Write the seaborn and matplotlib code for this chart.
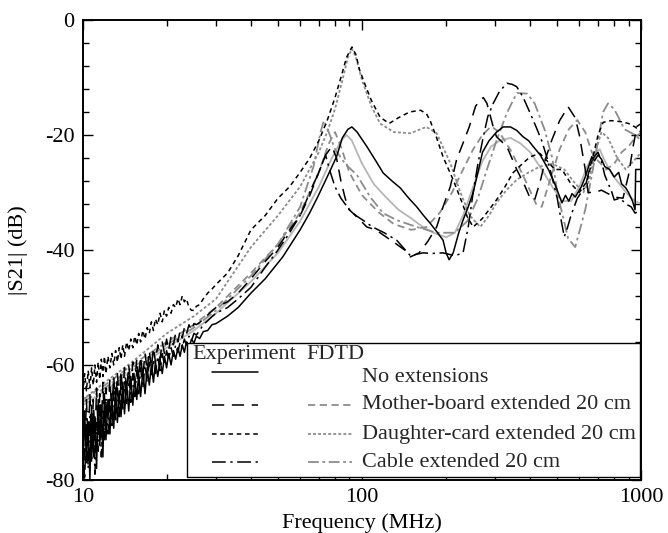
import numpy as np
import pandas as pd
import matplotlib
matplotlib.use("Agg")
import matplotlib.pyplot as plt
import seaborn as sns
from matplotlib.patches import Rectangle
from matplotlib.ticker import FixedLocator, NullFormatter, FixedFormatter

# ---------------- data ----------------
# shared low-frequency grid (noisy part of the measurements)
freq_lo = [10.0, 10.15, 10.3, 10.45, 10.6, 10.75, 10.9, 11.05, 11.2, 11.35, 11.5, 11.65, 11.8, 11.95,
           12.1, 12.3, 12.5, 12.7, 12.9, 13.1, 13.3, 13.5, 13.7, 13.9,
           14.1, 14.35, 14.6, 14.85, 15.1, 15.35, 15.6, 15.85, 16.1,
           16.4, 16.7, 17.0, 17.3, 17.6, 17.9, 18.2,
           18.55, 18.9, 19.25, 19.6, 19.95, 20.3,
           20.7, 21.1, 21.5, 21.9, 22.3, 22.7, 23.1, 23.5,
           24.0, 24.5, 25.0, 25.5, 26.2, 27.0, 28.0, 29.0, 30.0]

exp_noext_lo = [-79, -68, -77, -70, -80, -67, -76, -69, -78, -66, -74, -67, -76, -65,
                -73, -66, -72, -65, -71, -64, -70, -64.5, -69, -63,
                -68.5, -63, -68, -62, -67, -62, -66, -61.5, -65.5,
                -61, -65, -60.5, -63.5, -60, -63, -59.5,
                -62, -59, -61.5, -58.5, -60.5, -58,
                -60, -57.5, -59, -57, -58.5, -56.5, -57.8, -56,
                -57, -55.5, -56.2, -55, -55.4, -54.2, -54, -53, -52.8]
exp_mother_lo = [-72, -76, -66, -74, -65, -75, -66, -73, -64, -72, -65, -71, -63, -70,
                 -64, -69, -62.5, -68, -62, -67, -61.5, -66, -61, -65.5,
                 -60.5, -64.5, -60, -64, -59.5, -63, -59, -62.5, -58.5,
                 -62, -58, -61, -57.5, -60.5, -57, -59.5,
                 -56.5, -59, -56, -58, -55.5, -57.5,
                 -55, -56.5, -54.5, -56, -54, -55.3, -53.5, -54.6,
                 -53, -54, -52.8, -53, -52.6, -52, -51.3, -50.6, -50]
exp_cable_lo = [-73, -80, -70, -78, -69, -77, -68, -79, -70, -75, -67, -76, -68, -73,
                -66, -72, -65.5, -71, -64.5, -70, -64, -69, -63, -68,
                -62.5, -67, -62, -66.5, -61.5, -65.5, -61, -65, -60.5,
                -64, -60, -63, -59.5, -62, -59, -61.5,
                -58.5, -61, -58, -60, -57.5, -59,
                -57, -58.5, -56.5, -57.8, -56, -57, -55.5, -56.5,
                -55, -55.8, -54.5, -54.8, -54, -53, -52.3, -51.6, -51]
exp_daughter_lo = [-65, -61.5, -64.5, -61, -64, -60.5, -63.5, -60, -63, -59.5, -62.5, -59, -62, -58.5,
                   -61.5, -58.5, -60.5, -58, -60, -57.5, -59.5, -57, -59, -56.5,
                   -58.5, -56, -57.5, -55.5, -57, -55, -56.5, -54.5, -56,
                   -54, -55.5, -53.5, -54.5, -52.5, -54, -52,
                   -53, -51, -52.5, -50.5, -51.5, -50,
                   -51, -49.5, -50, -48.5, -49.5, -48, -49, -48.5,
                   -50, -50.5, -50.5, -49.8, -49.5, -48.5, -47.5, -46.8, -46]

# higher-frequency parts of the measurements
f_noext_hi = [33, 36, 40, 45, 52, 60, 65, 69, 75, 81, 85, 89, 92, 96, 104, 112, 119, 128, 137, 147,
              157, 166, 175, 185, 195, 200, 205, 212, 222, 230, 240, 250, 260, 270, 285, 303, 320,
              340, 358, 377, 395, 410, 435, 465, 490, 520, 535, 550, 565, 580, 610, 630, 665, 680,
              700, 720, 740, 770, 800, 830, 850, 880, 900, 930, 950, 955, 1000]
db_noext_hi = [-51.5, -50, -47.5, -45, -41.2, -36.5, -33.5, -31, -27.3, -23.8, -20.5, -19, -18.6,
               -19.5, -22, -24.5, -26.6, -28, -29.2, -31, -32.5, -34, -35.3, -36.8, -38.3, -40.5,
               -41.7, -40.5, -37, -34.8, -32.5, -30, -26.5, -23, -21, -19.5, -18.6, -18.6, -19.2,
               -20.3, -21, -22, -23.5, -26, -28.5, -31.8, -30.5, -31.5, -30.2, -30.8, -29, -27.3,
               -23.8, -24.5, -23.5, -24.2, -25.5, -26, -27.3, -26.5, -28.5, -29.2, -30, -31.5,
               -33, -26, -26]

f_mother_hi = [33, 36, 40, 45, 50, 55, 60, 65, 70, 74, 78, 81, 84, 87, 90, 97, 104, 112, 120, 133,
               142, 149, 160, 172, 185, 195, 207, 218, 230, 242, 255, 265, 272, 280, 295, 303, 330,
               358, 380, 400, 415, 435, 455, 478, 510, 547, 580, 600, 630, 645, 680, 720, 760, 800,
               860, 900, 935, 965, 1000]
db_mother_hi = [-49, -47.5, -45, -42, -39.5, -36.5, -34, -30.5, -26.5, -23.5, -22, -24, -28, -31,
                -33, -34.5, -36, -36.5, -37.5, -39, -40, -41.2, -40.5, -38.5, -36, -32.5, -29,
                -24.3, -21.4, -18.6, -15, -13.9, -13.5, -14.5, -18.6, -20.3, -22, -26, -28.5, -31,
                -31.3, -28, -24, -20.9, -17.5, -15.1, -17, -20, -26, -30, -30, -29.6, -30.2, -30.8,
                -31, -27, -22, -18.5, -18]

f_cable_hi = [33, 36, 40, 45, 50, 55, 60, 65, 70, 74, 77, 80, 84, 90, 95, 102, 109, 120, 133, 149,
              165, 179, 195, 215, 230, 240, 250, 260, 270, 282, 295, 310, 330, 345, 358, 377, 400,
              420, 440, 460, 480, 500, 515, 530, 545, 560, 590, 630, 665, 700, 720, 740, 785, 800,
              840, 880, 920, 950, 1000]
db_cable_hi = [-50, -48.5, -46.5, -43, -40, -37, -34, -30, -26.5, -23.5, -26.5, -29, -31, -33, -34,
               -35, -36, -37, -38.3, -41, -40.5, -40.6, -40.5, -41, -40.5, -36, -30, -25, -21,
               -16.8, -14.5, -12.5, -11, -11.2, -11.6, -13.4, -16.2, -18.6, -21, -24, -27.5, -31,
               -34.5, -37.7, -36, -34, -31, -29, -24.3, -23, -24.5, -27, -30, -31.3, -31, -32,
               -32.5, -33.6, -33]

f_daughter_hi = [33, 36, 40, 45, 50, 55, 60, 65, 70, 75, 80, 84, 88, 92, 95, 98, 103, 108, 116, 125,
                 135, 148, 162, 170, 175, 185, 195, 212, 225, 238, 250, 270, 303, 325, 347, 375,
                 400, 433, 460, 490, 520, 560, 600, 640, 670, 700, 730, 780, 850, 900, 950, 1000]
db_daughter_hi = [-44, -41, -36.5, -34, -31, -29, -26.5, -24, -21, -17.5, -13.5, -10, -6.5, -4.7, -6,
                  -8.7, -11.5, -14, -16.9, -18, -17, -16, -15.7, -16.3, -17.4, -20.5, -23.8, -27.8,
                  -31, -34.2, -36, -34.5, -31.3, -29, -26.6, -25, -23.8, -23.2, -24.5, -26, -26,
                  -28.5, -30, -28, -24, -20, -17.8, -17.5, -17.7, -18, -18.6, -19.5]

# FDTD simulations (smooth)
f_fdtd_noext = [10, 12, 15, 20, 25, 30, 40, 50, 60, 70, 78, 84, 88, 92, 100, 110, 120, 135, 150, 165,
                180, 200, 215, 230, 250, 270, 290, 310, 340, 370, 400, 440, 480, 520, 560, 600, 640,
                680, 710, 740, 790, 850, 900, 950, 1000]
db_fdtd_noext = [-67, -64.5, -61, -57, -54, -51, -45.5, -40.5, -35, -29, -24, -21, -20, -21, -25,
                 -28.5, -30.5, -33, -34.5, -36, -37, -37.8, -37, -34, -29, -24.5, -22, -21, -20.5,
                 -21.5, -23, -26, -29, -31.5, -31.5, -29, -25.5, -23, -22.5, -24.5, -27, -29, -30.5,
                 -31.5, -32]

f_fdtd_mother = [10, 12, 15, 20, 25, 30, 40, 50, 60, 70, 76, 80, 84, 90, 100, 115, 130, 150, 170, 190,
                 210, 230, 250, 270, 290, 310, 340, 377, 420, 440, 470, 510, 550, 590, 630, 665, 700,
                 750, 800, 850, 900, 950, 1000]
db_fdtd_mother = [-66, -63.5, -60, -56, -53, -50, -44, -39, -33.5, -26.5, -21.5, -19.5, -22, -26.5,
                  -30.5, -33.5, -35.5, -36.5, -36, -33.5, -30, -26, -22.5, -20, -18.5, -19.5, -22.6,
                  -27, -32, -32.5, -28, -22.5, -19, -17.4, -19.5, -23, -24.5, -26, -25, -23, -22,
                  -20.5, -19.5]

f_fdtd_daughter = [10, 12, 15, 20, 25, 30, 40, 50, 60, 70, 75, 80, 85, 89, 92, 95, 100, 108, 116, 130,
                   149, 170, 185, 207, 225, 243, 265, 285, 303, 330, 358, 395, 433, 480, 530, 570, 620,
                   650, 685, 720, 760, 820, 880, 940, 1000]
db_fdtd_daughter = [-66, -63, -59.5, -54.5, -51.5, -48.5, -39.5, -34, -29, -23, -19.5, -15.5, -10.5,
                    -6.5, -5, -6.5, -10.5, -15, -18, -19.5, -19.7, -18.6, -19.7, -24.9, -30, -34, -36,
                    -34, -31.8, -29.5, -27.8, -26.5, -25.5, -25, -26, -28, -30, -28, -23, -19.5, -20.5,
                    -24, -26, -24.5, -23]

f_fdtd_cable = [10, 12, 15, 20, 25, 30, 40, 50, 60, 67, 71, 73, 76, 80, 87, 96, 107, 119, 133, 157, 185,
                215, 238, 260, 280, 303, 330, 358, 390, 415, 450, 480, 500, 547, 580, 630, 665, 700,
                730, 760, 800, 830, 870, 950, 1000]
db_fdtd_cable = [-66.5, -64, -60.5, -56.5, -53.5, -50.5, -44.5, -39, -32.5, -25.5, -19.5, -17.5, -19.5,
                 -22.5, -25, -27, -30.8, -33.6, -34.8, -36, -37, -37, -35, -31, -26, -21, -16.2, -12.7,
                 -12.8, -14.5, -19, -24, -30, -38, -39.5, -33, -27, -21, -16, -14.5, -15.5, -17, -19,
                 -20, -21]

labels = ["No extensions", "Mother-board extended 20 cm",
          "Daughter-card extended 20 cm", "Cable extended 20 cm"]

# ---------------- styling ----------------
sns.set_theme(style="white")
plt.rcParams["font.family"] = ["Liberation Serif", "DejaVu Serif"]
plt.rcParams["axes.unicode_minus"] = False

GRAY = "#8c8c8c"
exp_styles = {
    "No extensions": "-",
    "Mother-board extended 20 cm": (0, (8, 5)),
    "Daughter-card extended 20 cm": (0, (3, 2.4)),
    "Cable extended 20 cm": (0, (9, 3, 1.5, 3)),
}
fdtd_styles = {
    "No extensions": "-",
    "Mother-board extended 20 cm": (0, (4, 2.5)),
    "Daughter-card extended 20 cm": (0, (1.6, 1.2)),
    "Cable extended 20 cm": (0, (6, 2, 1.5, 2)),
}

fig = plt.figure(figsize=(6.68, 5.33), dpi=100)
ax = fig.add_axes([0.124, 0.0995, 0.836, 0.8630])

exp_data = {
    "No extensions": (freq_lo + f_noext_hi, exp_noext_lo + db_noext_hi),
    "Mother-board extended 20 cm": (freq_lo + f_mother_hi, exp_mother_lo + db_mother_hi),
    "Daughter-card extended 20 cm": (freq_lo + f_daughter_hi, exp_daughter_lo + db_daughter_hi),
    "Cable extended 20 cm": (freq_lo + f_cable_hi, exp_cable_lo + db_cable_hi),
}
fdtd_data = {
    "No extensions": (f_fdtd_noext, db_fdtd_noext),
    "Mother-board extended 20 cm": (f_fdtd_mother, db_fdtd_mother),
    "Daughter-card extended 20 cm": (f_fdtd_daughter, db_fdtd_daughter),
    "Cable extended 20 cm": (f_fdtd_cable, db_fdtd_cable),
}

for lab in labels:
    f, d = fdtd_data[lab]
    df = pd.DataFrame({"f": f, "db": d})
    col = "#b5b5b5" if lab == "No extensions" else GRAY
    sns.lineplot(data=df, x="f", y="db", ax=ax, color=col, linewidth=1.3,
                 linestyle=fdtd_styles[lab], sort=False, estimator=None, legend=False)

for lab in labels:
    f, d = exp_data[lab]
    df = pd.DataFrame({"f": f, "db": d})
    sns.lineplot(data=df, x="f", y="db", ax=ax, color="black", linewidth=1.1,
                 linestyle=exp_styles[lab], sort=False, estimator=None, legend=False)

ax.set_xscale("log")
ax.set_xlim(10, 1000)
ax.set_ylim(-80, 0)

ax.xaxis.set_major_locator(FixedLocator([10, 100, 1000]))
ax.xaxis.set_major_formatter(FixedFormatter(["10", "100", "1000"]))
minor_x = [m * 10 ** e for e in (1, 2) for m in range(2, 10)]
ax.xaxis.set_minor_locator(FixedLocator(minor_x))
ax.xaxis.set_minor_formatter(NullFormatter())
ax.yaxis.set_major_locator(FixedLocator([0, -20, -40, -60, -80]))
ax.yaxis.set_minor_locator(FixedLocator([v for v in range(-80, 1, 4) if v % 20 != 0]))

ax.tick_params(which="both", direction="in", top=True, right=True, bottom=True, left=True,
               labelsize=16, colors="black", width=1.0)
ax.tick_params(which="major", length=7, pad=6)
ax.tick_params(which="minor", length=4)
for s in ax.spines.values():
    s.set_color("black")
    s.set_linewidth(1.4)

ax.set_xlabel("Frequency (MHz)", fontsize=16, labelpad=4, color="black")
ax.set_ylabel("|S21| (dB)", fontsize=16, labelpad=12, color="black")
ax.grid(False)

# ---------------- legend box (drawn in axes fraction) ----------------
tr = ax.transAxes
ax.add_patch(Rectangle((0.187, 0.006), 0.811, 0.292, transform=tr, fill=True,
                       facecolor="white", edgecolor="black", linewidth=1.0, zorder=5))
ax.text(0.196, 0.272, "Experiment", transform=tr, fontsize=16, va="center", ha="left", zorder=6)
ax.text(0.400, 0.272, "FDTD", transform=tr, fontsize=16, va="center", ha="left", zorder=6)
row_y = [0.222, 0.163, 0.099, 0.039]
for lab, yy in zip(labels, row_y):
    ax.text(0.500, yy, lab, transform=tr, fontsize=16, va="center", ha="left", zorder=6)
    ax.plot([0.232, 0.314], [yy + (0.012 if lab == "No extensions" else 0)] * 2, transform=tr,
            color="black", linewidth=1.1, linestyle=exp_styles[lab], zorder=6)
    if lab != "No extensions":
        ax.plot([0.404, 0.482], [yy, yy], transform=tr, color=GRAY, linewidth=1.3,
                linestyle=fdtd_styles[lab], zorder=6)

fig.savefig("out.png", dpi=100, facecolor="white")
